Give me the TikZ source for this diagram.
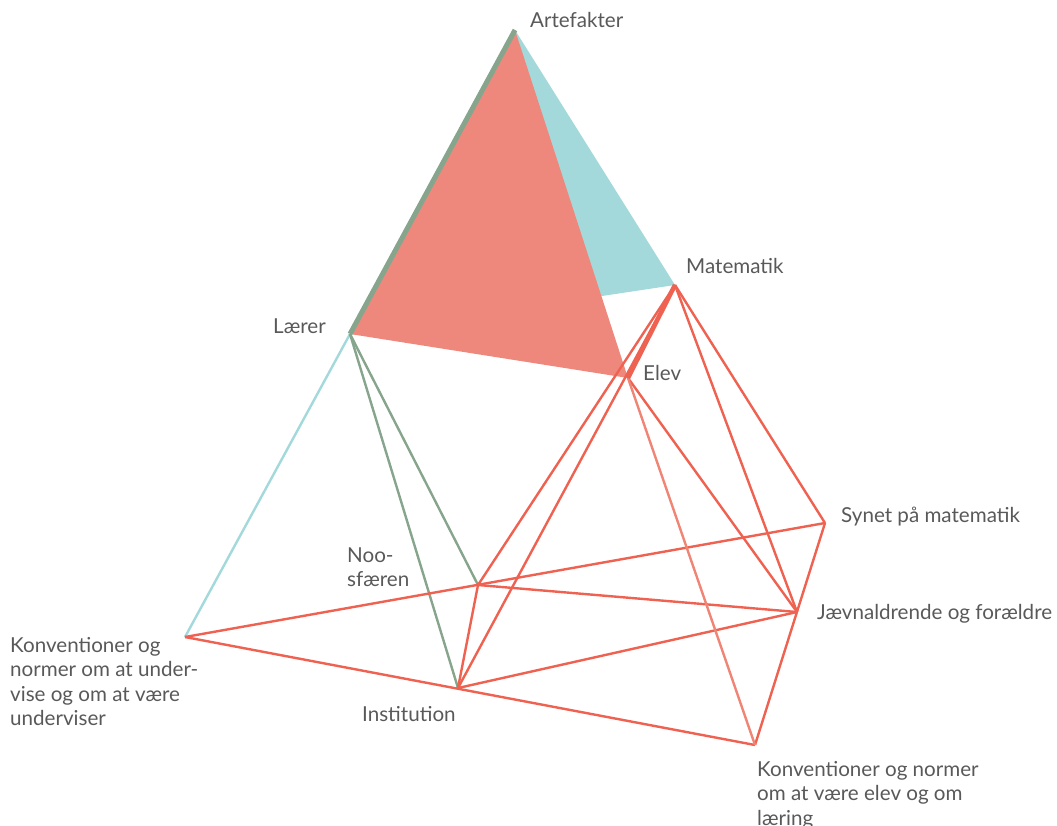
\documentclass[tikz,border=0pt]{standalone}
\usepackage{fontspec}
\setmainfont{Lato}
\usepackage{tikz}

\definecolor{rodfyld}{HTML}{EF887C}
\definecolor{tealfyld}{HTML}{A3D9DA}
\definecolor{groen}{HTML}{86A58C}
\definecolor{rod}{HTML}{EF6150}
\definecolor{lysrod}{HTML}{F08575}
\definecolor{tekst}{HTML}{595959}

\begin{document}
\begin{tikzpicture}[x=1pt,y=-1pt,
  lbl/.style={anchor=base west,inner sep=0pt,text=tekst,align=left,
    font=\fontsize{20.6}{24.5}\selectfont},
  kant/.style={line width=2.4pt,rod},
  gkant/.style={line width=2.4pt,groen}]
\useasboundingbox (0,0) rectangle (1057,825);

\coordinate (art) at (515,30);
\coordinate (mat) at (675,285);
\coordinate (laer) at (350,334);
\coordinate (elev) at (628,378);
\coordinate (syn) at (825,523);
\coordinate (jaev) at (797,612);
\coordinate (konve) at (755,745);
\coordinate (inst) at (458,688);
\coordinate (noo) at (478,585);
\coordinate (konvl) at (185,637);

\fill[tealfyld] (art) -- (mat) -- (laer) -- cycle;
\fill[rodfyld] (art) -- (laer) -- (elev) -- cycle;
\draw[groen,line width=5pt] (art) -- (laer);

\draw[tealfyld,line width=2.4pt] (laer) -- (konvl);
\draw[gkant] (laer) -- (noo);
\draw[gkant] (laer) -- (inst);

\draw[kant] (konvl) -- (syn);
\draw[kant] (konvl) -- (konve);
\draw[kant] (syn) -- (konve);
\draw[kant] (noo) -- (jaev);
\draw[kant] (inst) -- (jaev);
\draw[kant] (noo) -- (inst);
\draw[kant] (mat) -- (noo);
\draw[kant] (mat) -- (inst);
\draw[kant] (mat) -- (syn);
\draw[kant] (mat) -- (jaev);
\draw[kant] (elev) -- (jaev);
\draw[lysrod,line width=2.4pt] (elev) -- (konve);
\draw[rod,line width=4.5pt] (mat) -- (elev);

\node[lbl] (artL) at (530,27) {Artefakter};
\node[lbl] (matL) at (686,273) {Matematik};
\node[lbl] (laerL) at (273,333) {Lærer};
\node[lbl] (elevL) at (643,380) {Elev};
\node[lbl] (synL) at (841,522) {Synet på matematik};
\node[lbl] (jaevL) at (817,619) {Jævnaldrende og forældre};
\node[lbl] (nooL) at (347,586.5) {Noo-\\sfæren};
\node[lbl] (instL) at (362,721) {Institution};
\node[lbl] (konvlL) at (10,725.5) {Konventioner og\\normer om at under-\\vise og om at være\\underviser};
\node[lbl] (konveL) at (757,825) {Konventioner og normer\\om at være elev og om\\læring};
\end{tikzpicture}
\end{document}
